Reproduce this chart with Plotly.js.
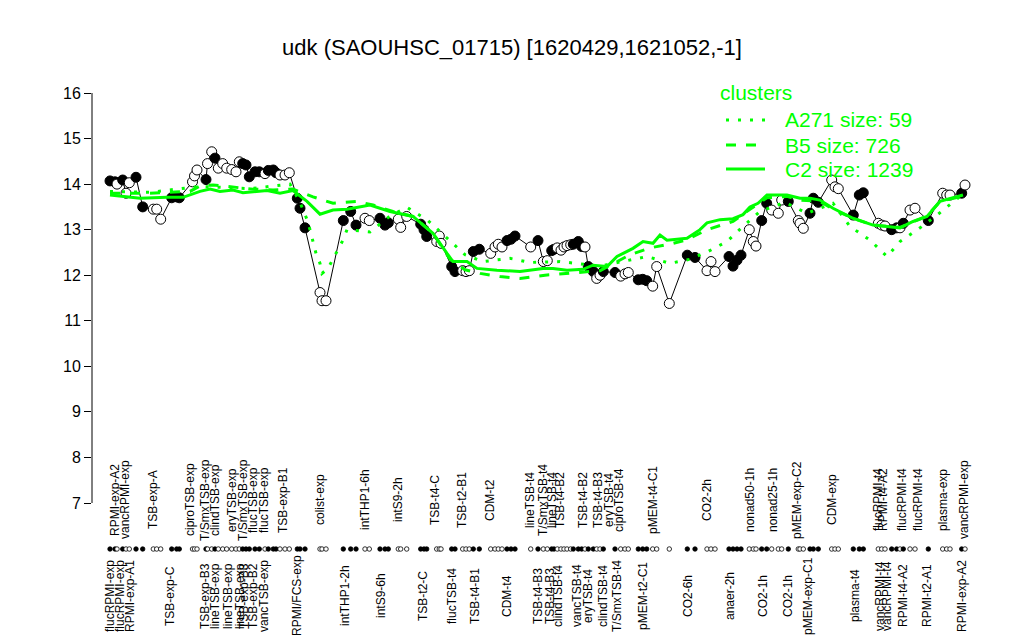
<!DOCTYPE html>
<html>
<head>
<meta charset="utf-8">
<script src="https://cdn.plot.ly/plotly-3.0.1.min.js"></script>
<style>html,body{margin:0;padding:0;background:#fff;}#chart{width:1024px;height:640px;}</style>
</head>
<body>
<div id="chart"></div>
<script>
// ---------- data ----------
const samplePos = [110,115,117,122.7,126,129.3,136,142.7,153.3,156.7,160.7,171.7,176.7,179.3,192.5,194.5,197,
  206,207.5,211.7,215,218.3,222.7,226.7,231.7,236,239.3,242.7,246,249.3,255,259.3,265,268.3,273.3,276,280,285,289.3,
  297.3,300,305,320,322,326,343.3,350.7,356,365,369.3,380,385,388.3,398.3,400.7,406.7,420.7,424,426.7,436.7,439.3,441,
  451.7,455,462.7,466,469.3,473.3,479.3,490.7,495,498.3,502,507,511,515,530.7,538,543.3,547.3,551.7,554,557.3,561,564,567,570.7,
  573.3,578.3,581.7,585,588.3,593.3,596.7,600,603.3,615,620.7,625,628.3,638.3,642.7,646.7,652.7,656.7,669.3,687.3,695,
  707,711,715,729,733,737,741,749.3,753.3,756,761.7,766.7,771.7,778.3,781.7,788.3,798.3,800,803.3,810,813.3,818.3,
  831.7,835,838.3,853.3,859.3,863.3,878.3,881.7,885,891.7,896.7,900,903.3,910,915,928.3,942.7,946.7,950,961.7,965];
const expression = [14.07,14.05,14.00,14.09,13.80,14.03,14.15,13.50,13.45,13.45,13.23,13.70,13.72,13.70,14.05,14.18,14.31,
  14.10,14.45,14.71,14.57,14.35,14.45,14.35,14.32,14.27,14.49,14.45,14.42,14.16,14.27,14.27,14.23,14.30,14.31,14.25,14.20,14.20,14.25,
  13.69,13.47,13.04,11.62,11.44,11.44,13.20,13.40,13.10,13.25,13.20,13.25,13.10,13.15,13.23,13.05,13.29,13.12,13.00,12.85,12.74,12.86,12.70,
  12.19,12.08,12.10,12.08,12.10,12.52,12.57,12.48,12.62,12.68,12.62,12.76,12.79,12.86,12.62,12.76,12.30,12.32,12.54,12.57,12.60,12.55,12.62,12.65,12.67,
  12.68,12.74,12.63,12.62,12.19,12.08,11.93,12.00,12.08,12.06,11.98,12.03,12.06,11.90,11.91,11.88,11.76,12.19,11.38,12.44,12.39,
  12.10,12.30,12.08,12.41,12.20,12.33,12.44,13.00,12.74,12.64,13.20,13.58,13.43,13.36,13.65,13.62,13.20,13.14,13.03,13.36,13.69,13.60,
  14.09,13.94,13.90,13.32,13.76,13.81,13.14,13.10,13.08,13.00,13.04,13.04,13.14,13.43,13.47,13.20,13.80,13.76,13.76,13.80,13.98];
const isFilled = [1,1,0,1,0,0,1,1,0,0,0,1,1,1,0,0,0,
  1,0,0,1,0,0,0,0,0,0,1,1,1,1,1,0,1,1,1,0,0,0,
  1,1,1,0,0,0,1,1,1,0,0,1,1,1,0,0,0,1,1,1,0,0,0,
  1,1,0,0,0,1,1,0,0,0,0,1,1,1,0,1,0,0,1,1,0,0,0,0,0,
  1,1,1,0,1,1,0,0,1,1,0,0,0,1,1,1,0,0,0,1,1,
  0,0,0,1,1,1,1,0,0,0,1,1,0,0,0,1,0,0,0,1,1,1,
  0,0,0,1,1,1,0,0,0,1,1,0,1,0,0,1,0,0,0,1,0];

const c2Pos = [110,140,167,183,200,210,220,233,243,267,280,293,307,320,333,347,370,390,413,433,447,453,467,477,497,520,543,553,567,583,593,607,617,633,643,653,660,667,687,700,707,720,733,743,750,758,767,787,800,810,820,833,853,873,887,900,913,927,940,953,963];
const c2Val = [13.76,13.69,13.71,13.71,13.84,13.89,13.84,13.87,13.81,13.86,13.80,13.86,13.62,13.34,13.43,13.45,13.54,13.40,13.29,12.92,12.48,12.30,12.30,12.15,12.11,12.08,12.15,12.15,12.11,12.13,12.22,12.19,12.41,12.59,12.74,12.70,12.88,12.77,12.81,13.00,13.15,13.22,13.24,13.33,13.50,13.58,13.76,13.76,13.69,13.69,13.65,13.47,13.25,13.10,13.07,13.04,13.18,13.29,13.62,13.69,13.76];
const b5Pos = [110,150,190,200,213,233,253,273,293,313,333,357,373,393,413,433,450,465,480,500,520,545,570,600,630,650,673,687,707,733,750,767,787,800,820,833,853,873,900,927,940,963];
const b5Val = [13.80,13.80,13.84,13.96,13.98,13.93,13.89,13.87,13.89,13.72,13.58,13.62,13.54,13.40,13.29,12.92,12.35,12.12,12.04,11.97,11.93,12.00,12.05,12.10,12.45,12.60,12.70,12.78,13.00,13.18,13.45,13.70,13.73,13.65,13.62,13.45,13.25,13.10,13.05,13.30,13.62,13.74];
const a271Pos = [110,150,200,250,290,300,308,313,316,320,322,328,333,338,343,347,370,390,407,428,445,465,483,510,530,560,600,647,670,690,708,727,743,760,785,807,833,850,870,887,900,920,937,960];
const a271Val = [13.84,13.82,13.95,13.90,14.00,13.60,13.17,12.74,12.48,12.26,12.04,12.15,12.35,12.55,12.77,13.00,12.95,13.30,13.49,13.20,12.85,12.45,12.30,12.37,12.28,12.30,12.20,12.41,12.26,12.35,12.52,12.74,13.07,13.40,13.60,13.36,13.58,13.07,12.77,12.41,12.74,13.04,13.32,13.73];

const upperLabels = ["RPMI-exp-A2","vancRPMI-exp","TSB-exp-A","ciproTSB-exp","T/SmxTSB-exp","clindTSB-exp","eryTSB-exp","T/SmxTSB-exp","flucTSB-exp","flucTSB-exp","TSB-exp-B1","colist-exp","intTHP1-6h","intS9-2h","TSB-t4-C","TSB-t2-B1","CDM-t2","lineTSB-t4","T/SmxTSB-t4","lineTSB-t4","TSB-t4-B2","TSB-t4-B2","TSB-t4-B3","eryTSB-t4","ciproTSB-t4","pMEM-t4-C1","CO2-2h","nonad50-1h","nonad25-1h","pMEM-exp-C2","CDM-exp","flucRPMI-t4","RPMI-t4-A2","flucRPMI-t4","flucRPMI-t4","plasma-exp","vancRPMI-exp"];
const upperPos = [115,125,153,190,205,215,232,243,253,264,283,320,365,398,435,462,490,530,543,552,560,583,598,609,619,653,707,750,773,797,832,878,883,902,918,943,964];
const lowerLabels = ["flucRPMI-exp","flucRPMI-exp","RPMI-exp-A1","TSB-exp-C","TSB-exp-B3","lineTSB-exp","lineTSB-exp","lineTSB-exp","TSB-exp-B3","TSB-exp-B2","vancTSB-exp","RPMI/FCS-exp","intTHP1-2h","intS9-6h","TSB-t2-C","flucTSB-t4","TSB-t4-B1","CDM-t4","TSB-t4-B3","TSB-t4-B3","clindTSB-t4","vancTSB-t4","eryTSB-t4","clindTSB-t4","T/SmxTSB-t4","pMEM-t2-C1","CO2-6h","anaer-2h","CO2-1h","CO2-1h","pMEM-exp-C1","plasma-t4","vancRPMI-t4","vancRPMI-t4","RPMI-t4-A2","RPMI-t2-A1","RPMI-exp-A2"];
const lowerPos = [110,120,130,170,205,215,228,240,244,253,264,297,345,381,423,452,475,507,538,550,558,577,588,603,617,643,688,730,763,788,808,855,880,887,903,927,962];

const clusterNames = ["A271 size: 59","B5 size: 726","C2 size: 1239"];
const yTicks = [7,8,9,10,11,12,13,14,15,16];
const titleText = "udk (SAOUHSC_01715) [1620429,1621052,-1]";

// ---------- layout constants ----------
const FONT = "Liberation Sans, Arial, Helvetica, sans-serif";
const GREEN = "#00FF00";
const W = 1024, H = 640, ML = 92, MR = 39, MT = 60, MB = 20;
const pw = W - ML - MR, ph = H - MT - MB;
const px = v => (v - ML) / pw;          // pixel x -> paper
const py = v => (H - MB - v) / ph;      // pixel y -> paper
const RUG_Y = 5.99;

const traces = [];
traces.push({
  x: samplePos, y: expression, mode: 'lines+markers', type: 'scatter', showlegend: false,
  line: {color: 'black', width: 1},
  marker: {size: 10, symbol: 'circle', color: isFilled.map(f => f ? 'black' : 'white'), line: {color: 'black', width: 1}},
  hoverinfo: 'skip'
});
traces.push({
  x: samplePos, y: samplePos.map(() => RUG_Y), mode: 'markers', type: 'scatter', showlegend: false,
  marker: {size: 4.5, symbol: 'circle', color: isFilled.map(f => f ? 'black' : 'white'), line: {color: 'black', width: 0.8}},
  hoverinfo: 'skip'
});
traces.push({x: a271Pos, y: a271Val, mode: 'lines', type: 'scatter', showlegend: false, line: {color: GREEN, width: 3, dash: '3px,9px'}, hoverinfo: 'skip'});
traces.push({x: b5Pos, y: b5Val, mode: 'lines', type: 'scatter', showlegend: false, line: {color: GREEN, width: 3, dash: '10px,10px'}, hoverinfo: 'skip'});
traces.push({x: c2Pos, y: c2Val, mode: 'lines', type: 'scatter', showlegend: false, line: {color: GREEN, width: 3}, hoverinfo: 'skip'});

const annotations = [];
upperLabels.forEach((t, i) => annotations.push({
  text: t, x: upperPos[i], xref: 'x', y: py(500), yref: 'paper', xanchor: 'center', yanchor: 'middle', textangle: -90, showarrow: false,
  font: {family: FONT, size: 12, color: 'black'}
}));
lowerLabels.forEach((t, i) => annotations.push({
  text: t, x: lowerPos[i], xref: 'x', y: py(596), yref: 'paper', xanchor: 'center', yanchor: 'middle', textangle: -90, showarrow: false,
  font: {family: FONT, size: 12, color: 'black'}
}));
// legend
annotations.push({text: 'clusters', x: px(718), y: py(92), xref: 'paper', yref: 'paper', xanchor: 'left', yanchor: 'middle', showarrow: false, font: {family: FONT, size: 21, color: GREEN}});
const legY = [120, 145, 169];
const legDash = ['3px,9px', '10px,10px', 'solid'];
const shapes = [{type: 'line', xref: 'paper', yref: 'y', x0: 0, x1: 0, y0: yTicks[0], y1: yTicks[yTicks.length - 1], line: {color: 'black', width: 1}}];
clusterNames.forEach((n, i) => {
  annotations.push({text: n, x: px(783), y: py(legY[i]), xref: 'paper', yref: 'paper', xanchor: 'left', yanchor: 'middle', showarrow: false, font: {family: FONT, size: 21, color: GREEN}});
  shapes.push({type: 'line', xref: 'paper', yref: 'paper', x0: px(726), x1: px(765), y0: py(legY[i]), y1: py(legY[i]), line: {color: GREEN, width: 3, dash: legDash[i]}});
});

const layout = {
  width: W, height: H,
  margin: {l: ML, r: MR, t: MT, b: MB},
  paper_bgcolor: 'white', plot_bgcolor: 'white',
  font: {family: FONT, color: 'black'},
  title: {text: titleText, x: 0.5, xref: 'container', xanchor: 'center', y: 1 - 47 / H, yref: 'container', yanchor: 'middle', font: {family: FONT, size: 22, color: 'black'}},
  xaxis: {range: [ML, W - MR], visible: false, showgrid: false, zeroline: false, fixedrange: true},
  yaxis: {range: [7 - (H - MB - 503) / 45.556, 16 + (93 - MT) / 45.556], tickmode: 'array', tickvals: yTicks, ticktext: yTicks.map(String),
          ticks: 'outside', ticklen: 7, tickwidth: 1, tickcolor: 'black', showline: false, showgrid: false, zeroline: false,
          tickfont: {family: FONT, size: 16, color: 'black'}, fixedrange: true},
  showlegend: false,
  annotations: annotations, shapes: shapes
};
Plotly.newPlot('chart', traces, layout, {staticPlot: true, displayModeBar: false});
</script>
</body>
</html>
